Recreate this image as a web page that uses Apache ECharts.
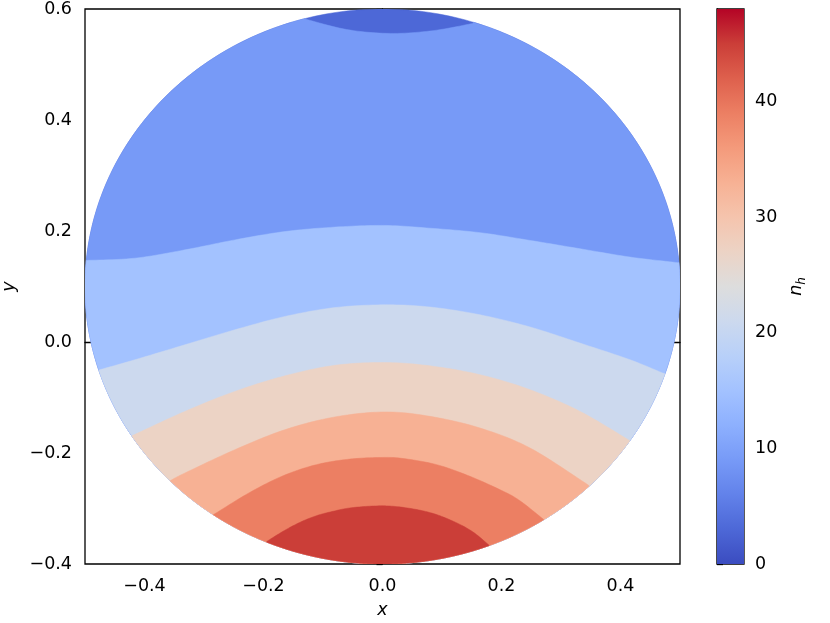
<!DOCTYPE html>
<html>
<head>
<meta charset="utf-8">
<script src="https://cdn.jsdelivr.net/npm/echarts@6/dist/echarts.min.js"></script>
<style>html,body{margin:0;padding:0;background:#fff}#main{width:830px;height:623px}</style>
</head>
<body>
<div id="main"></div>
<script>
// contour levels of n_h and the fill colour of each band (coolwarm)
var levels = [0, 6, 12, 18, 24, 30, 36, 42, 48];
var bandColors = ['#4d68d7', '#779af7', '#a3c2ff', '#ccd9ee', '#ecd3c5', '#f7b194', '#ec7f63', '#cb3e38'];

// the disk the field lives on
var diskCenter = [0, 0.1];
var diskRadius = 0.5;

// contour lines, [x, y] left to right
var line6  = [[-0.130, 0.582], [-0.060, 0.563], [0.013, 0.556], [0.085, 0.561], [0.152, 0.574]];
var line12 = [[-0.497, 0.147], [-0.416, 0.151], [-0.332, 0.166], [-0.248, 0.184], [-0.164, 0.199], [-0.080, 0.207],
              [0.004, 0.210], [0.080, 0.205], [0.164, 0.197], [0.248, 0.183], [0.332, 0.168], [0.416, 0.153], [0.496, 0.143]];
var line18 = [[-0.475, -0.050], [-0.416, -0.032], [-0.332, -0.005], [-0.248, 0.022], [-0.164, 0.046], [-0.080, 0.062],
              [0.004, 0.067], [0.080, 0.063], [0.164, 0.049], [0.248, 0.027], [0.332, -0.002], [0.416, -0.032], [0.471, -0.056]];
var line24 = [[-0.421, -0.169], [-0.332, -0.125], [-0.248, -0.089], [-0.164, -0.061], [-0.080, -0.042], [0.004, -0.037],
              [0.080, -0.043], [0.164, -0.059], [0.248, -0.086], [0.332, -0.125], [0.413, -0.176]];
var line30 = [[-0.357, -0.250], [-0.332, -0.236], [-0.248, -0.194], [-0.164, -0.158], [-0.080, -0.135], [0.004, -0.126],
              [0.080, -0.134], [0.164, -0.155], [0.248, -0.191], [0.345, -0.257]];
var line36 = [[-0.284, -0.311], [-0.223, -0.271], [-0.167, -0.241], [-0.111, -0.221], [-0.055, -0.211], [0.000, -0.208],
              [0.035, -0.210], [0.091, -0.221], [0.147, -0.242], [0.203, -0.269], [0.231, -0.286], [0.270, -0.319]];
var line42 = [[-0.194, -0.359], [-0.167, -0.341], [-0.139, -0.325], [-0.111, -0.313], [-0.083, -0.305], [-0.055, -0.299],
              [-0.015, -0.2955], [0.018, -0.296], [0.058, -0.302], [0.091, -0.311], [0.125, -0.326], [0.153, -0.343], [0.179, -0.366]];

// upper edge of band i is contourLines[i]
var contourLines = [null, line6, line12, line18, line24, line30, line36, line42];

var xTicks = [-0.4, -0.2, 0, 0.2, 0.4];
var cbarTicks = [0, 10, 20, 30, 40];

// coolwarm stops for the colour bar
var cbarStops = ['#3b4cc0', '#4d68d7', '#6282ea', '#779af7', '#8db0fe', '#a3c2ff', '#b8d0f9', '#ccd9ee', '#dddddd',
                 '#ecd3c5', '#f5c4ad', '#f7b194', '#f49a7b', '#ec7f63', '#de604d', '#cb3e38', '#b40426'];

var FONT = 'DejaVu Sans';
var FS = 17.5;
var BLACK = '#000';

function fmt(v) {
    if (Math.abs(v) < 1e-9) return '0.0';
    return (v < 0 ? '\u2212' : '') + Math.abs(v).toFixed(1);
}

// catmull-rom through the read points (pixel space)
function smoothPts(p, n) {
    var out = [];
    for (var i = 0; i < p.length - 1; i++) {
        var p0 = p[Math.max(i - 1, 0)], p1 = p[i], p2 = p[i + 1], p3 = p[Math.min(i + 2, p.length - 1)];
        for (var s = 0; s < n; s++) {
            var t = s / n, t2 = t * t, t3 = t2 * t;
            var q = [0, 1].map(function (k) {
                return 0.5 * (2 * p1[k] + (-p0[k] + p2[k]) * t + (2 * p0[k] - 5 * p1[k] + 4 * p2[k] - p3[k]) * t2 +
                    (-p0[k] + 3 * p1[k] - 3 * p2[k] + p3[k]) * t3);
            });
            out.push(q);
        }
    }
    out.push(p[p.length - 1]);
    return out;
}

function arcPts(api, a0, a1, n) {
    var pts = [];
    for (var i = 0; i <= n; i++) {
        var a = a0 + (a1 - a0) * i / n;
        pts.push(api.coord([diskCenter[0] + diskRadius * Math.cos(a), diskCenter[1] + diskRadius * Math.sin(a)]));
    }
    return pts;
}

function renderBand(params, api) {
    var i = params.dataIndex;
    var pts;
    if (i === 0) {
        pts = arcPts(api, 0, 2 * Math.PI, 360);
    } else {
        var line = contourLines[i];
        var px = line.map(function (d) { return api.coord(d); });
        pts = smoothPts(px, 12);
        var r = line[line.length - 1], l = line[0];
        var aR = Math.atan2(r[1] - diskCenter[1], r[0] - diskCenter[0]);
        var aL = Math.atan2(l[1] - diskCenter[1], l[0] - diskCenter[0]);
        if (aL > aR) aL -= 2 * Math.PI;
        pts = pts.concat(arcPts(api, aR, aL, 300));
    }
    return {
        type: 'polygon',
        shape: { points: pts },
        style: { fill: bandColors[i], stroke: bandColors[i], lineWidth: 0.5 }
    };
}

function renderCbar(params, api) {
    var p0 = api.coord([0, levels[0]]);
    var p1 = api.coord([1, levels[levels.length - 1]]);
    return {
        type: 'rect',
        shape: { x: p0[0], y: p1[1], width: p1[0] - p0[0], height: p0[1] - p1[1] },
        style: {
            fill: new echarts.graphic.LinearGradient(0, 1, 0, 0, cbarStops.map(function (c, k) {
                return { offset: k / (cbarStops.length - 1), color: c };
            }))
        }
    };
}

var chart = echarts.init(document.getElementById('main'));
var tickStyle = { color: BLACK, width: 1.3 };
var labelStyle = { color: BLACK, fontSize: FS, fontFamily: FONT };

var option = {
    animation: false,
    backgroundColor: '#fff',
    grid: [
        { left: 85, right: 150, top: 9, bottom: 59, show: true, borderColor: BLACK, borderWidth: 1.3, outerBoundsMode: 'none', containLabel: false },
        { left: 717, right: 86, top: 9, bottom: 59, show: true, borderColor: BLACK, borderWidth: 1.3, outerBoundsMode: 'none', containLabel: false }
    ],
    xAxis: [
        {
            gridIndex: 0, type: 'value', min: -0.5, max: 0.5,
            name: 'x', nameLocation: 'middle', nameGap: 37,
            nameTextStyle: { color: BLACK, fontSize: FS, fontFamily: FONT, fontStyle: 'italic' },
            axisLine: { show: true, lineStyle: tickStyle },
            axisTick: { show: true, inside: false, length: 6, lineStyle: tickStyle, customValues: xTicks },
            axisLabel: Object.assign({ margin: 13, customValues: xTicks, formatter: fmt }, labelStyle),
            splitLine: { show: false }
        },
        { gridIndex: 1, type: 'value', min: 0, max: 1, show: false }
    ],
    yAxis: [
        {
            gridIndex: 0, type: 'value', min: -0.4, max: 0.6, interval: 0.2,
            name: 'y', nameLocation: 'middle', nameGap: 65, nameRotate: 90,
            nameTextStyle: { color: BLACK, fontSize: FS, fontFamily: FONT, fontStyle: 'italic' },
            axisLine: { show: true, lineStyle: tickStyle },
            axisTick: { show: true, inside: false, length: 6, lineStyle: tickStyle },
            axisLabel: Object.assign({ margin: 13, formatter: fmt }, labelStyle),
            splitLine: { show: false }
        },
        {
            gridIndex: 1, type: 'value', position: 'right', min: 0, max: 48,
            name: '{n|n}{h|h}', nameLocation: 'middle', nameGap: 41, nameRotate: 90,
            nameTextStyle: {
                color: BLACK, fontFamily: FONT,
                rich: {
                    n: { fontSize: FS, fontStyle: 'italic', fontFamily: FONT, color: BLACK, lineHeight: 23 },
                    h: { fontSize: 12, fontStyle: 'italic', fontFamily: FONT, color: BLACK, lineHeight: 12, verticalAlign: 'bottom' }
                }
            },
            axisLine: { show: true, lineStyle: tickStyle },
            axisTick: { show: true, inside: false, length: 6, lineStyle: tickStyle, customValues: cbarTicks },
            axisLabel: Object.assign({ margin: 11, customValues: cbarTicks }, labelStyle),
            splitLine: { show: false }
        }
    ],
    series: [
        {
            type: 'custom', xAxisIndex: 0, yAxisIndex: 0, clip: true,
            renderItem: renderBand,
            data: bandColors.map(function (c, i) { return [diskCenter[0], diskCenter[1], levels[i]]; })
        },
        {
            type: 'custom', xAxisIndex: 1, yAxisIndex: 1,
            renderItem: renderCbar,
            data: [[0.5, 24]]
        }
    ]
};
chart.setOption(option);
</script>
</body>
</html>
